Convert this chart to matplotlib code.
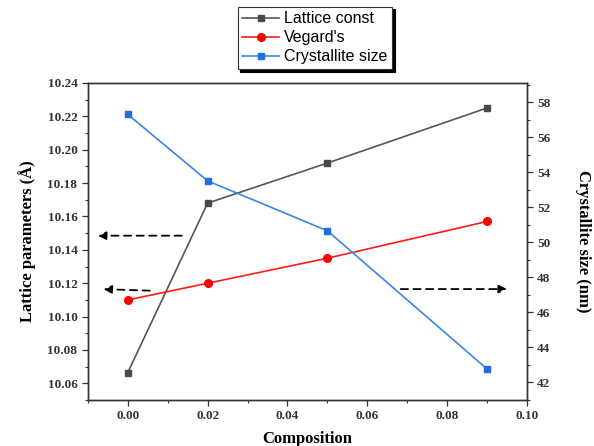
import matplotlib
matplotlib.use("Agg")
import matplotlib.pyplot as plt
from matplotlib.ticker import MultipleLocator, AutoMinorLocator

composition = [0.00, 0.02, 0.05, 0.09]
lattice_const = [10.0665, 10.168, 10.192, 10.225]
vegards = [10.110, 10.120, 10.135, 10.157]
crystallite = [57.3, 53.5, 50.65, 42.75]

serif = ["Liberation Serif", "DejaVu Serif"]
sans = ["Liberation Sans", "DejaVu Sans"]
tcol = "#333333"

fig = plt.figure(figsize=(5.94, 4.46), dpi=100)
ax = fig.add_axes([0.148, 0.103, 0.739, 0.711])
ax2 = ax.twinx()

l1, = ax.plot(composition, lattice_const, color="#555555", marker="s", ms=5,
              mfc="#4a4a4a", mec="#4a4a4a", lw=1.2, label="Lattice const")
l2, = ax.plot(composition, vegards, color="#ff1a1a", marker="o", ms=5.5,
              mfc="#ff0000", mec="#ff0000", lw=1.2, label="Vegard's")
l3, = ax2.plot(composition, crystallite, color="#3a86e8", marker="s", ms=5,
               mfc="#1f6fe0", mec="#1f6fe0", lw=1.2, label="Crystallite size")

ax.set_xlim(-0.01, 0.10)
ax.set_ylim(10.05, 10.24)
ax2.set_ylim(40.97, 59.1)

ax.xaxis.set_major_locator(MultipleLocator(0.02))
ax.xaxis.set_minor_locator(MultipleLocator(0.01))
ax.yaxis.set_major_locator(MultipleLocator(0.02))
ax.yaxis.set_minor_locator(AutoMinorLocator(2))
ax2.yaxis.set_major_locator(MultipleLocator(2))
ax2.yaxis.set_minor_locator(AutoMinorLocator(2))

for a in (ax, ax2):
    for s in a.spines.values():
        s.set_color(tcol)
        s.set_linewidth(1.0)
    a.tick_params(which="both", direction="out", colors=tcol)
    a.tick_params(which="major", length=4, width=0.9)
    a.tick_params(which="minor", length=2.5, width=0.8)

ax.xaxis.set_major_formatter(matplotlib.ticker.FormatStrFormatter("%.2f"))
ax.yaxis.set_major_formatter(matplotlib.ticker.FormatStrFormatter("%.2f"))
ax2.yaxis.set_major_formatter(matplotlib.ticker.FormatStrFormatter("%d"))

for lab in ax.get_xticklabels() + ax.get_yticklabels() + ax2.get_yticklabels():
    lab.set_fontfamily(serif)
    lab.set_fontweight("bold")
    lab.set_fontsize(9.5)
    lab.set_color(tcol)

ax.set_xlabel("Composition", fontfamily=serif, fontweight="bold", fontsize=12, labelpad=6)
ax.set_ylabel("Lattice parameters (Å)", fontfamily=serif, fontweight="bold", fontsize=12, labelpad=8)
ax2.set_ylabel("Crystallite size (nm)", fontfamily=serif, fontweight="bold", fontsize=12,
               rotation=270, labelpad=29)

# dashed arrows
arrow_kw = dict(arrowstyle="-|>", linestyle=(0, (4, 3)), color="black", lw=1.3,
                mutation_scale=12)
ax.annotate("", xy=(-0.0082, 10.1485), xytext=(0.0142, 10.1485), arrowprops=arrow_kw)
ax.annotate("", xy=(-0.0068, 10.1165), xytext=(0.0062, 10.1155), arrowprops=arrow_kw)
ax.annotate("", xy=(0.0957, 10.1165), xytext=(0.0677, 10.1165), arrowprops=arrow_kw)

leg = fig.legend(handles=[l1, l2, l3], loc="upper left", bbox_to_anchor=(0.400, 0.985),
                 prop={"family": sans, "size": 11.5}, frameon=True, fancybox=False,
                 shadow={"color": "black", "alpha": 1.0}, borderpad=0.3,
                 labelspacing=0.25, handlelength=2.3, handletextpad=0.3,
                 borderaxespad=0.0)
leg.get_frame().set_edgecolor("#333333")
leg.get_frame().set_linewidth(0.8)

fig.savefig("out.png", dpi=100)
